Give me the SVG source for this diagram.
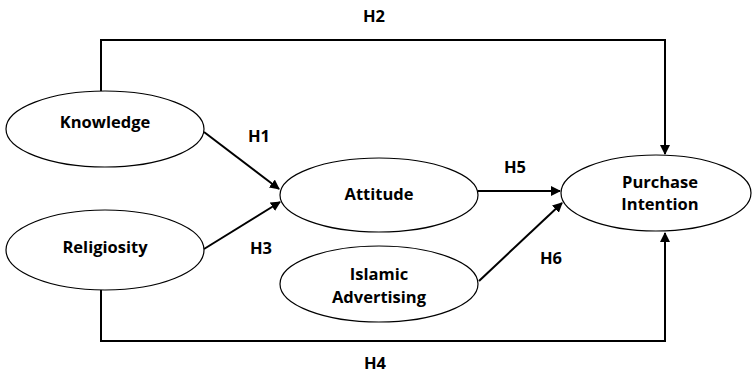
<svg xmlns="http://www.w3.org/2000/svg" width="752" height="373" viewBox="0 0 752 373">
<style>
.n{fill:#fff;stroke:#000;stroke-width:1.2}
.t{font-family:"Open Sans","Liberation Sans",sans-serif;font-weight:bold;font-size:16.5px;fill:#000;text-anchor:middle}
.c{fill:none;stroke:#000;stroke-width:2}
</style>
<defs>
<marker id="a" viewBox="0 0 10 10" refX="9" refY="5" markerWidth="5" markerHeight="5" orient="auto" markerUnits="strokeWidth">
<path d="M0,0 L10,5 L0,10 z" fill="#000"/>
</marker>
</defs>
<rect width="752" height="373" fill="#fff"/>
<g id="connectors">
<path class="c" d="M101,91 V40 H665 V154" marker-end="url(#a)"/>
<path class="c" d="M101,290 V341 H665 V233" marker-end="url(#a)"/>
<path class="c" d="M204,132 L279,189" marker-end="url(#a)"/>
<path class="c" d="M204,249 L280,202" marker-end="url(#a)"/>
<path class="c" d="M478,191 L560,191" marker-end="url(#a)"/>
<path class="c" d="M479,281 L562,203" marker-end="url(#a)"/>
</g>
<g id="knowledge"><ellipse class="n" cx="105" cy="129" rx="99" ry="38"/><text class="t" x="105" y="128">Knowledge</text></g>
<g id="religiosity"><ellipse class="n" cx="105" cy="250" rx="99" ry="40"/><text class="t" x="105" y="253">Religiosity</text></g>
<g id="attitude"><ellipse class="n" cx="379" cy="195" rx="99" ry="37"/><text class="t" x="379" y="200">Attitude</text></g>
<g id="islamic"><ellipse class="n" cx="379" cy="284" rx="99" ry="38"/><text class="t" x="379" y="280">Islamic</text><text class="t" x="379" y="303">Advertising</text></g>
<g id="purchase"><ellipse class="n" cx="656" cy="193" rx="95" ry="38"/><text class="t" x="660" y="188">Purchase</text><text class="t" x="660" y="210">Intention</text></g>
<g id="labels">
<text class="t" x="374" y="22">H2</text>
<text class="t" x="259" y="142">H1</text>
<text class="t" x="261" y="254">H3</text>
<text class="t" x="515" y="173">H5</text>
<text class="t" x="551" y="264">H6</text>
<text class="t" x="375" y="369">H4</text>
</g>
</svg>
